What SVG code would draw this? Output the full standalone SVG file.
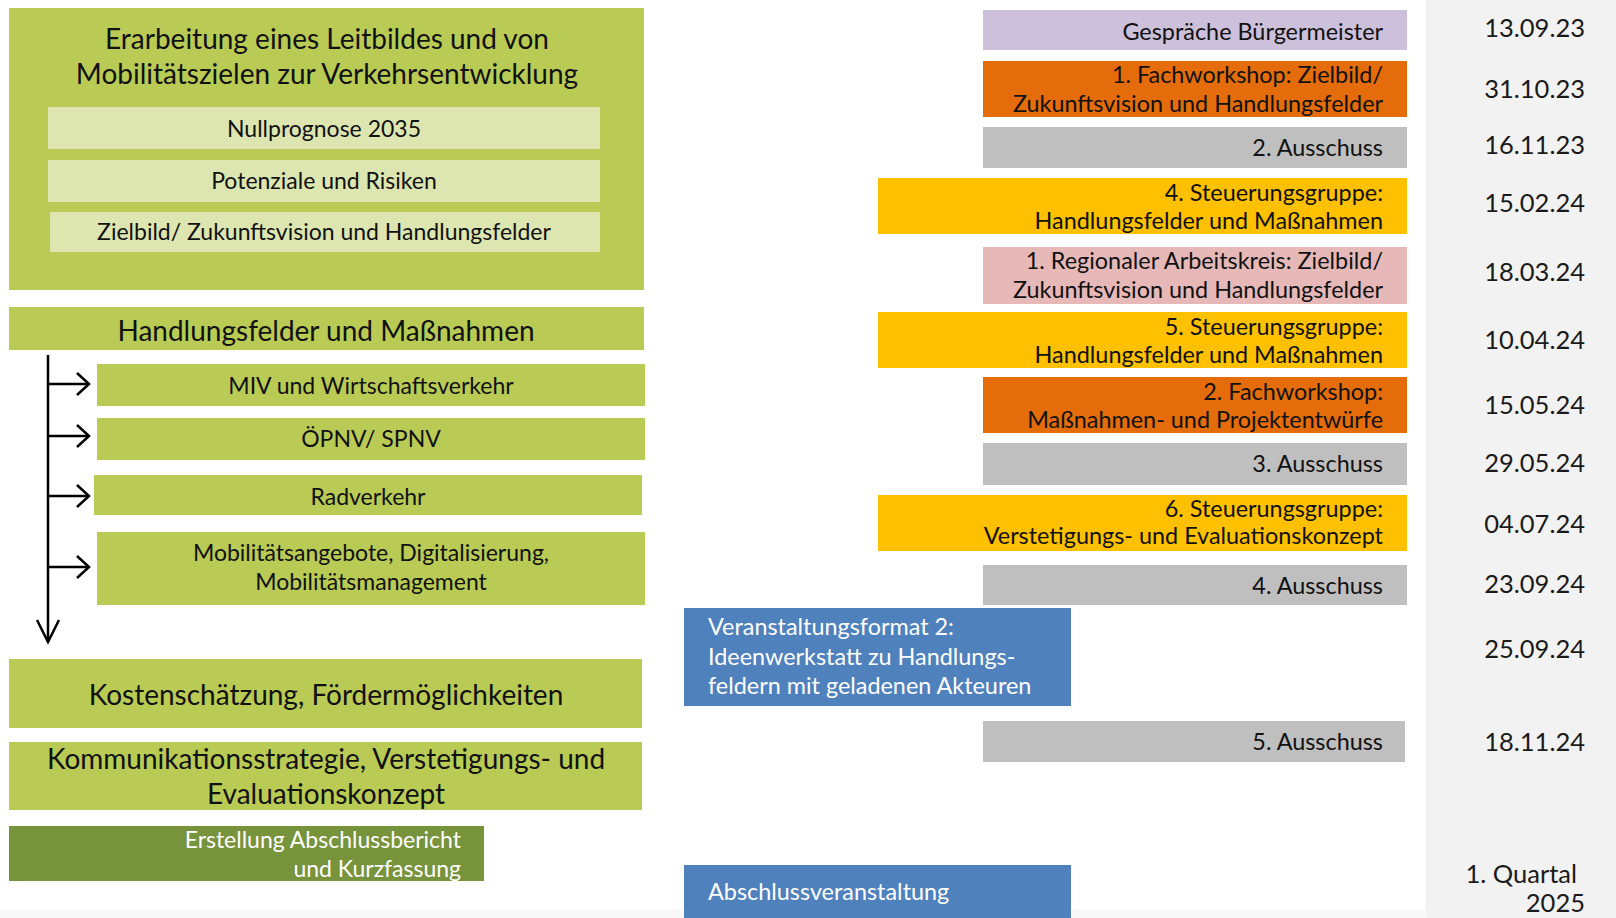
<svg xmlns="http://www.w3.org/2000/svg" width="1616" height="918" viewBox="0 0 1616 918">
<style>
text{font-family:Lato,"Open Sans","DejaVu Sans",sans-serif;fill:#111}
.g{fill:#B9CB54}
.lg{fill:#DDE6B0}
.dg{fill:#77933C}
.lav{fill:#CCC0DA}
.or{fill:#E46C0A}
.gr{fill:#BFBFBF}
.ye{fill:#FFC000}
.pk{fill:#E6B9B8}
.bl{fill:#4F81BD}
.t26{font-size:28px;text-anchor:middle}
.t21{font-size:23px;text-anchor:middle}
.r22{font-size:23.4px;text-anchor:end}
.w{fill:#fff}
.l22{font-size:23.4px;text-anchor:start;fill:#fff}
.d{font-size:25.5px;text-anchor:end;fill:#1a1a1a}
.c{fill:none;stroke:#000;stroke-width:2.5}
</style>
<defs>
<marker id="ah" markerUnits="userSpaceOnUse" markerWidth="16" markerHeight="26" refX="13" refY="12" orient="auto" viewBox="0 0 16 26">
<path d="M1,1 L13,12 L1,23" fill="none" stroke="#000" stroke-width="2.5"/>
</marker>
<marker id="ahd" markerUnits="userSpaceOnUse" markerWidth="26" markerHeight="26" refX="23" refY="12" orient="auto" viewBox="0 0 26 26">
<path d="M1,1 L23,12 L1,23" fill="none" stroke="#000" stroke-width="2.5"/>
</marker>
</defs>
<rect x="0" y="0" width="1616" height="918" fill="#fff"/>
<rect x="1426" y="0" width="190" height="918" fill="#F2F2F2"/>
<rect x="0" y="910" width="1426" height="8" fill="#F8F8F8"/>

<g id="leitbild">
<rect class="g" x="9" y="8" width="635" height="282"/>
<text class="t26" x="327" y="49">Erarbeitung eines Leitbildes und von</text>
<text class="t26" x="327" y="84">Mobilitätszielen zur Verkehrsentwicklung</text>
</g>
<g id="nullprognose">
<rect class="lg" x="48" y="107" width="552" height="42"/>
<text class="t21" x="324" y="137">Nullprognose 2035</text>
</g>
<g id="potenziale">
<rect class="lg" x="48" y="160" width="552" height="42"/>
<text class="t21" x="324" y="189">Potenziale und Risiken</text>
</g>
<g id="zielbild">
<rect class="lg" x="50" y="212" width="550" height="40"/>
<text class="t21" x="324" y="240">Zielbild/ Zukunftsvision und Handlungsfelder</text>
</g>
<g id="handlungsfelder">
<rect class="g" x="9" y="307" width="635" height="43"/>
<text class="t26" x="326" y="341">Handlungsfelder und Maßnahmen</text>
</g>
<g id="miv">
<rect class="g" x="97" y="364" width="548" height="42"/>
<text class="t21" x="371" y="394">MIV und Wirtschaftsverkehr</text>
</g>
<g id="oepnv">
<rect class="g" x="97" y="418" width="548" height="42"/>
<text class="t21" x="371" y="447">ÖPNV/ SPNV</text>
</g>
<g id="radverkehr">
<rect class="g" x="94" y="475" width="548" height="40"/>
<text class="t21" x="368" y="505">Radverkehr</text>
</g>
<g id="mobilitaet">
<rect class="g" x="97" y="532" width="548" height="73"/>
<text class="t21" x="371" y="561">Mobilitätsangebote, Digitalisierung,</text>
<text class="t21" x="371" y="590">Mobilitätsmanagement</text>
</g>
<g id="kosten">
<rect class="g" x="9" y="659" width="633" height="69"/>
<text class="t26" x="326" y="705">Kostenschätzung, Fördermöglichkeiten</text>
</g>
<g id="kommunikation">
<rect class="g" x="9" y="742" width="633" height="68"/>
<text class="t26" x="326" y="769">Kommunikationsstrategie, Verstetigungs- und</text>
<text class="t26" x="326" y="804">Evaluationskonzept</text>
</g>
<g id="abschlussbericht">
<rect class="dg" x="9" y="826" width="475" height="55"/>
<text class="t21 w" x="461" y="848" style="text-anchor:end">Erstellung Abschlussbericht</text>
<text class="t21 w" x="461" y="877" style="text-anchor:end">und Kurzfassung</text>
</g>

<g id="connectors">
<path class="c" d="M48,355 L48,642" marker-end="url(#ahd)"/>
<path class="c" d="M48,384 L89,384" marker-end="url(#ah)"/>
<path class="c" d="M48,436 L89,436" marker-end="url(#ah)"/>
<path class="c" d="M48,496 L89,496" marker-end="url(#ah)"/>
<path class="c" d="M48,567 L89,567" marker-end="url(#ah)"/>
</g>

<g id="gespraeche">
<rect class="lav" x="983" y="10" width="424" height="40"/>
<text class="r22" x="1383" y="40">Gespräche Bürgermeister</text>
</g>
<g id="fachworkshop1">
<rect class="or" x="983" y="61" width="424" height="56"/>
<text class="r22" x="1383" y="83">1. Fachworkshop: Zielbild/</text>
<text class="r22" x="1383" y="112">Zukunftsvision und Handlungsfelder</text>
</g>
<g id="ausschuss2">
<rect class="gr" x="983" y="127" width="424" height="41"/>
<text class="r22" x="1383" y="156">2. Ausschuss</text>
</g>
<g id="steuerung4">
<rect class="ye" x="878" y="178" width="529" height="56"/>
<text class="r22" x="1383" y="201">4. Steuerungsgruppe:</text>
<text class="r22" x="1383" y="229">Handlungsfelder und Maßnahmen</text>
</g>
<g id="arbeitskreis1">
<rect class="pk" x="983" y="247" width="424" height="57"/>
<text class="r22" x="1383" y="269">1. Regionaler Arbeitskreis: Zielbild/</text>
<text class="r22" x="1383" y="298">Zukunftsvision und Handlungsfelder</text>
</g>
<g id="steuerung5">
<rect class="ye" x="878" y="312" width="529" height="56"/>
<text class="r22" x="1383" y="335">5. Steuerungsgruppe:</text>
<text class="r22" x="1383" y="363">Handlungsfelder und Maßnahmen</text>
</g>
<g id="fachworkshop2">
<rect class="or" x="983" y="377" width="424" height="56"/>
<text class="r22" x="1383" y="400">2. Fachworkshop:</text>
<text class="r22" x="1383" y="428">Maßnahmen- und Projektentwürfe</text>
</g>
<g id="ausschuss3">
<rect class="gr" x="983" y="443" width="424" height="42"/>
<text class="r22" x="1383" y="472">3. Ausschuss</text>
</g>
<g id="steuerung6">
<rect class="ye" x="878" y="495" width="529" height="56"/>
<text class="r22" x="1383" y="517">6. Steuerungsgruppe:</text>
<text class="r22" x="1383" y="544">Verstetigungs- und Evaluationskonzept</text>
</g>
<g id="ausschuss4">
<rect class="gr" x="983" y="565" width="424" height="40"/>
<text class="r22" x="1383" y="594">4. Ausschuss</text>
</g>
<g id="veranstaltung2">
<rect class="bl" x="684" y="608" width="387" height="98"/>
<text class="l22" x="708" y="635">Veranstaltungsformat 2:</text>
<text class="l22" x="708" y="665">Ideenwerkstatt zu Handlungs-</text>
<text class="l22" x="708" y="694">feldern mit geladenen Akteuren</text>
</g>
<g id="ausschuss5">
<rect class="gr" x="983" y="721" width="422" height="41"/>
<text class="r22" x="1383" y="750">5. Ausschuss</text>
</g>
<g id="abschlussveranstaltung">
<rect class="bl" x="684" y="865" width="387" height="53"/>
<text class="l22" x="708" y="900">Abschlussveranstaltung</text>
</g>

<g id="dates">
<text class="d" x="1585" y="37">13.09.23</text>
<text class="d" x="1585" y="98">31.10.23</text>
<text class="d" x="1585" y="154">16.11.23</text>
<text class="d" x="1585" y="212">15.02.24</text>
<text class="d" x="1585" y="281">18.03.24</text>
<text class="d" x="1585" y="349">10.04.24</text>
<text class="d" x="1585" y="414">15.05.24</text>
<text class="d" x="1585" y="472">29.05.24</text>
<text class="d" x="1585" y="533">04.07.24</text>
<text class="d" x="1585" y="593">23.09.24</text>
<text class="d" x="1585" y="658">25.09.24</text>
<text class="d" x="1585" y="751">18.11.24</text>
<text class="d" x="1577" y="883">1. Quartal</text>
<text class="d" x="1585" y="912">2025</text>
</g>
</svg>
